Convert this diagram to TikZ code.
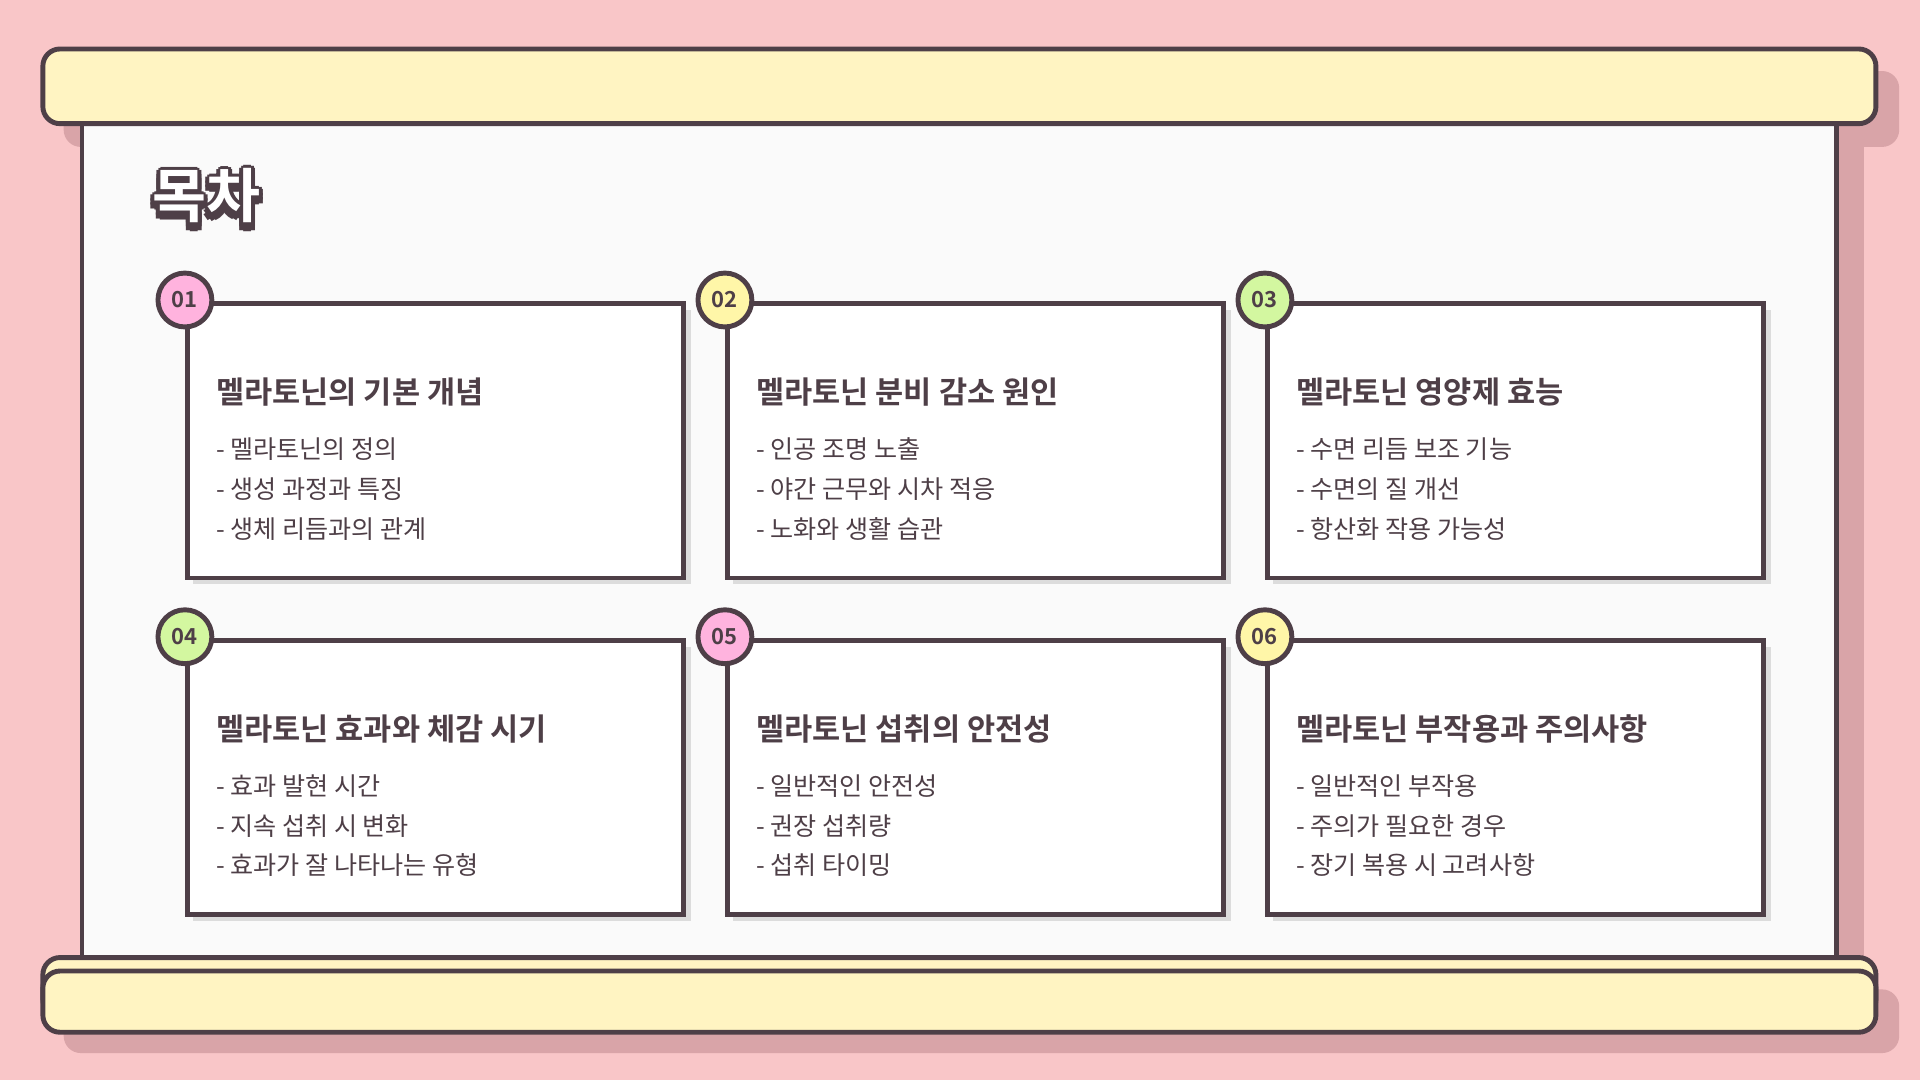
\documentclass[tikz,border=0pt]{standalone}
\usepackage{fontspec}
\setmainfont{Noto Sans CJK KR}
\newfontfamily\kb{Noto Sans CJK KR Bold}
\begin{document}
\begin{tikzpicture}[x=1pt,y=-1pt,
  ln/.style={draw=dk,line width=4pt},
  card/.style={ln,fill=white},
  num/.style={circle,ln,minimum size=44pt,inner sep=0pt,font=\kb\fontsize{18}{18}\selectfont,text=dk},
  ttl/.style={anchor=west,font=\kb\fontsize{25}{25}\selectfont,text=dk},
  itm/.style={anchor=north west,align=left,font=\fontsize{20.5}{32.5}\selectfont,text=dk}]
\definecolor{bg}{HTML}{F9C6C8}
\definecolor{dk}{HTML}{4E3F47}
\definecolor{yl}{HTML}{FFF4C2}
\definecolor{sh}{HTML}{D9A4A8}
\definecolor{pk}{HTML}{FFB3DE}
\definecolor{ye}{HTML}{FFF6A8}
\definecolor{gr}{HTML}{D3F7A0}
\definecolor{csh}{HTML}{DCDCDC}
\fill[bg] (0,0) rectangle (1568,882);
\useasboundingbox (0,0) rectangle (1568,882);
% shadows
\fill[sh,rounded corners=14pt] (52,58) rectangle (1551,120);
\fill[sh] (1500,100) rectangle (1522,790);
\fill[sh,rounded corners=14pt] (52,808) rectangle (1551,860);
% paper
\draw[ln,fill=white!98!black] (67,90) rectangle (1500,790);
% top bar
\draw[ln,fill=yl,rounded corners=14pt] (35,40) rectangle (1532,101);
% bottom bars
\draw[ln,fill=yl,rounded corners=14pt] (35,782) rectangle (1532,830);
\draw[ln,fill=yl,rounded corners=14pt] (35,793) rectangle (1532,843);
% title
\foreach \dx/\dy in {0/4,1/5,-1/5,3/3,-3/3,3/0,-3/0,0/-3,2/-2,-2/-2,3/6,-3/6,0/7}
  \node[anchor=west,font=\kb\fontsize{48}{48}\selectfont,text=dk] at (121+\dx,160+\dy) {목차};
\node[anchor=west,font=\kb\fontsize{48}{48}\selectfont,text=white] (T) at (121,160) {목차};
% cards
\foreach \x/\y/\n/\c/\t/\a/\b/\d in {
153/248/01/pk/멜라토닌의 기본 개념/멜라토닌의 정의/생성 과정과 특징/생체 리듬과의 관계,
594/248/02/ye/멜라토닌 분비 감소 원인/인공 조명 노출/야간 근무와 시차 적응/노화와 생활 습관,
1035/248/03/gr/멜라토닌 영양제 효능/수면 리듬 보조 기능/수면의 질 개선/항산화 작용 가능성,
153/523/04/gr/멜라토닌 효과와 체감 시기/효과 발현 시간/지속 섭취 시 변화/효과가 잘 나타나는 유형,
594/523/05/pk/멜라토닌 섭취의 안전성/일반적인 안전성/권장 섭취량/섭취 타이밍,
1035/523/06/ye/멜라토닌 부작용과 주의사항/일반적인 부작용/주의가 필요한 경우/장기 복용 시 고려사항}{
  \fill[csh] (\x+5,\y+5) rectangle (\x+411,\y+229);
  \draw[card] (\x,\y) rectangle (\x+405,\y+224);
  \node[num,fill=\c] (n\n) at (\x-2,\y-3) {\n};
  \node[ttl] (t\n) at (\x+20,\y+72) {\t};
  \node[itm] (i\n) at (\x+20,\y+106) {- \a\\- \b\\- \d};
}
\end{tikzpicture}
\end{document}
